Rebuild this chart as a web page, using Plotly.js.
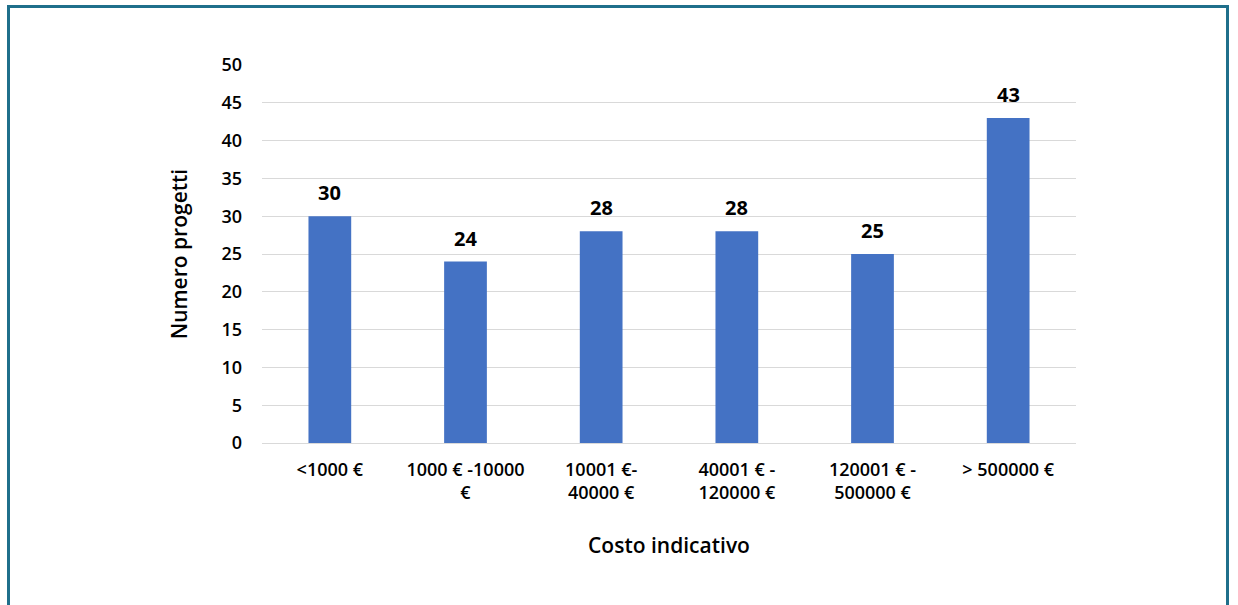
<!DOCTYPE html>
<html>
<head>
<meta charset="utf-8">
<script src="https://cdn.plot.ly/plotly-3.0.1.min.js"></script>
<style>
html,body{margin:0;padding:0;background:#fff;}
#frame{position:absolute;left:7px;top:5px;width:1222px;height:610px;border:3px solid #1f6f8b;border-bottom:none;box-sizing:border-box;}
#chart{position:absolute;left:0;top:0;width:1238px;height:605px;}
</style>
</head>
<body>
<div id="chart"></div>
<div id="frame"></div>
<script>
const categories = ["&lt;1000 €", "1000 € -10000<br>€", "10001 €-<br>40000 €", "40001 € -<br>120000 €", "120001 € -<br>500000 €", "&gt; 500000 €"];
const values = [30, 24, 28, 28, 25, 43];
const yTicks = [0, 5, 10, 15, 20, 25, 30, 35, 40, 45, 50];

const fontFam = "'Open Sans', 'Noto Sans', sans-serif";

const trace = {
  type: 'bar',
  x: categories,
  y: values,
  marker: {color: '#4472c4'},
  hoverinfo: 'none'
};

const annotations = categories.map((c, i) => ({
  x: c, y: values[i], xref: 'x', yref: 'y',
  text: String(values[i]), showarrow: false,
  yanchor: 'bottom', yshift: 8,
  font: {family: fontFam, size: 20, color: '#000', weight: 700}
}));

const layout = {
  width: 1238, height: 605,
  margin: {l: 262, r: 162, t: 65, b: 162},
  paper_bgcolor: '#fff', plot_bgcolor: '#fff',
  bargap: 0.685,
  showlegend: false,
  xaxis: {
    type: 'category',
    tickfont: {family: fontFam, size: 18, color: '#000', weight: 600},
    showgrid: false, zeroline: false,
    showline: false, ticks: '', ticklabelstandoff: 14,
    title: {text: 'Costo indicativo', font: {family: fontFam, size: 21, color: '#000', weight: 600}, standoff: 34}
  },
  yaxis: {
    range: [0, 50],
    tickvals: yTicks,
    ticktext: yTicks.map(String),
    tickfont: {family: fontFam, size: 18, color: '#000', weight: 600},
    gridcolor: '#d9d9d9', gridwidth: 1,
    zeroline: true, zerolinecolor: '#d9d9d9', zerolinewidth: 1,
    showline: false, ticks: '', ticklabelstandoff: 19,
    title: {text: 'Numero progetti', font: {family: fontFam, size: 21, color: '#000', weight: 600}, standoff: 28}
  },
  annotations: annotations
};

Plotly.newPlot('chart', [trace], layout, {staticPlot: true, displayModeBar: false});
</script>
</body>
</html>
